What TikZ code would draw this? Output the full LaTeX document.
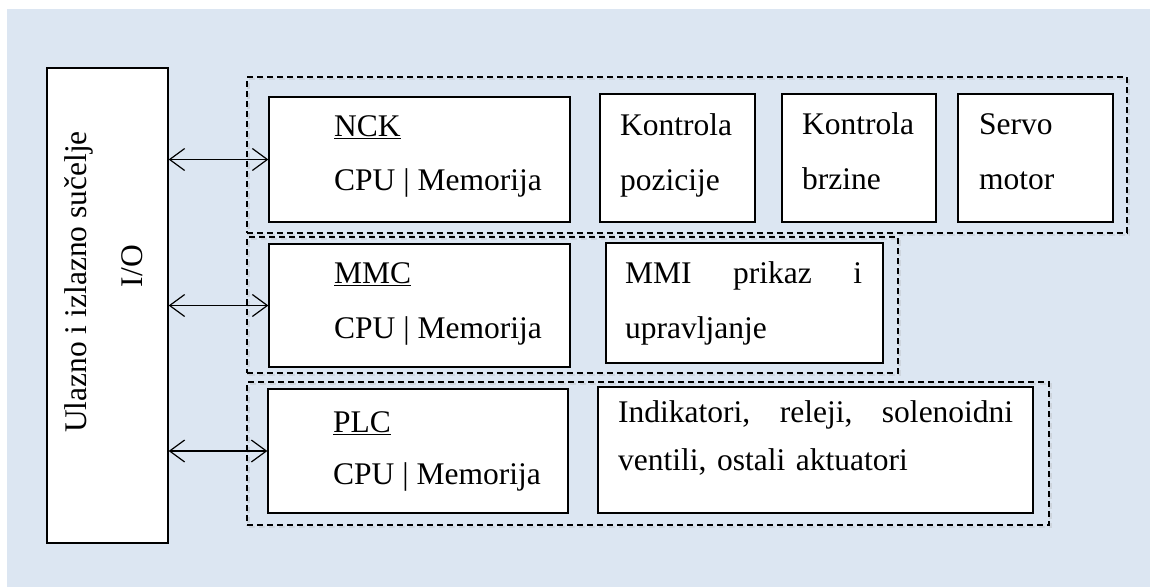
\documentclass[tikz,border=0pt]{standalone}
\usepackage{fontspec}
\setmainfont{Liberation Serif}
\usetikzlibrary{arrows.meta}
\definecolor{bgblue}{RGB}{220,230,242}
\tikzset{
  box/.style={draw, fill=white, line width=1.3pt, inner sep=0pt},
  grp/.style={draw, dash pattern=on 6pt off 4pt, line width=1.1pt, inner sep=0pt,
    preaction={draw=black!35, line width=2.4pt, opacity=0.25,
      transform canvas={shift={(1.5pt,-2pt)}}}},
  txt/.style={anchor=north west, inner sep=0pt, align=left,
    font=\fontsize{31.5}{#1}\selectfont},
  txt/.default=55,
  link/.style={<->, line width=1.2pt, >={Straight Barb[length=15pt,width=22pt]}}
}
\newcommand\ts{\rule{0pt}{22pt}}
\begin{document}
\begin{tikzpicture}[x=1pt, y=-1pt]
\useasboundingbox (0,0) rectangle (1150,587);
\fill[bgblue] (7,9) rectangle (1150,587);
% groups
\node[grp, minimum width=880pt, minimum height=156pt] (ncgrp) at (687,155) {};
\node[grp, minimum width=651pt, minimum height=136pt] (mmgrp) at (572.5,305) {};
\node[grp, minimum width=802pt, minimum height=143pt] (plgrp) at (648,453.5) {};
% interface
\node[box, minimum width=121pt, minimum height=475pt] (io) at (107.5,305.5) {};
\node[rotate=90, anchor=base, inner sep=0pt, font=\fontsize{31.5}{38}\selectfont]
  (iolbl) at (86,282) {Ulazno i izlazno sučelje};
\node[rotate=90, anchor=base, inner sep=0pt, font=\fontsize{31.5}{38}\selectfont]
  (iotag) at (142,266) {I/O};
% NCK row
\node[box, minimum width=301pt, minimum height=125pt] (nck) at (419.5,159.5) {};
\node[box, minimum width=155pt, minimum height=128pt] (pos) at (677.5,158) {};
\node[box, minimum width=154pt, minimum height=128pt] (spd) at (859,158) {};
\node[box, minimum width=155pt, minimum height=128pt] (srv) at (1035.5,158) {};
\node[txt=54] (nckt) at (334,114) {\ts\underline{NCK}\\CPU | Memorija};
\node[txt] (post) at (620,113) {\ts Kontrola\\pozicije};
\node[txt] (spdt) at (802,112) {\ts Kontrola\\brzine};
\node[txt] (srvt) at (979,112) {\ts Servo\\motor};
% MMC row
\node[box, minimum width=301pt, minimum height=123pt] (mmc) at (419.5,305.5) {};
\node[box, minimum width=277pt, minimum height=120pt] (mmi) at (744.5,303) {};
\node[txt] (mmct) at (334,261) {\ts\underline{MMC}\\CPU | Memorija};
\node[txt, text width=237pt] (mmit) at (625,261)
  {\ts MMI\hfill prikaz\hfill i\\upravljanje};
% PLC row
\node[box, minimum width=300pt, minimum height=124pt] (plc) at (418,451) {};
\node[box, minimum width=435pt, minimum height=126pt] (act) at (815.5,450) {};
\node[txt=52] (plct) at (333,410) {\ts\underline{PLC}\\CPU | Memorija};
\node[txt=48, text width=395pt] (actt) at (618,400)
  {\ts Indikatori,\hfill releji,\hfill solenoidni\\ventili, ostali aktuatori};
% links
\draw[link] (io.east |- nck.west) -- (nck.west);
\draw[link] (io.east |- mmc.west) -- (mmc.west);
\draw[link] (io.east |- plc.west) -- (plc.west);
\end{tikzpicture}
\end{document}
